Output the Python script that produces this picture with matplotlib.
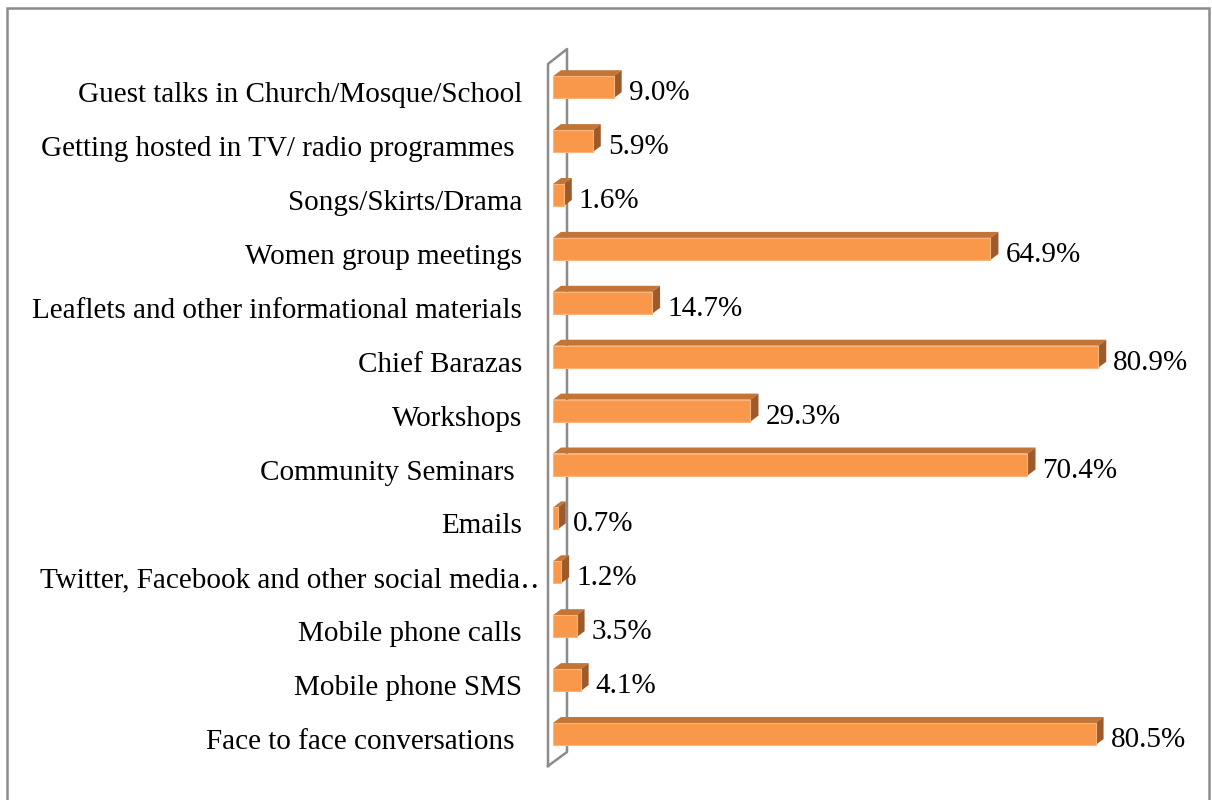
import matplotlib
matplotlib.use("Agg")
import matplotlib.pyplot as plt
from matplotlib.patches import Polygon, Rectangle
from matplotlib.lines import Line2D

categories = [
    "Face to face conversations ",
    "Mobile phone SMS",
    "Mobile phone calls",
    "Twitter, Facebook and other social media\u2025",
    "Emails",
    "Community Seminars ",
    "Workshops",
    "Chief Barazas",
    "Leaflets and other informational materials",
    "Women group meetings",
    "Songs/Skirts/Drama",
    "Getting hosted in TV/ radio programmes ",
    "Guest talks in Church/Mosque/School",
]
values = [80.5, 4.1, 3.5, 1.2, 0.7, 70.4, 29.3, 80.9, 14.7, 64.9, 1.6, 5.9, 9.0]

W, H = 1212, 800
fig = plt.figure(figsize=(W / 100, H / 100), dpi=100)
plt.rcParams['font.family'] = ['Liberation Serif', 'DejaVu Serif']

# geometry in pixels
px_per_pct = 6.74
px_per_row = 53.9
x0_px = 553
row0_px = 734  # y pixel (from top) of row 0
ax_left_px, ax_right_px = 530, 1200
ax_top_px, ax_bot_px = 40, 780

ax = fig.add_axes([ax_left_px / W, 1 - ax_bot_px / H,
                   (ax_right_px - ax_left_px) / W, (ax_bot_px - ax_top_px) / H])
ax.set_xlim((ax_left_px - x0_px) / px_per_pct, (ax_right_px - x0_px) / px_per_pct)
ax.set_ylim((row0_px - ax_bot_px) / px_per_row, (row0_px - ax_top_px) / px_per_row)
ax.axis('off')

# outer border
fig.patches.append(Rectangle((7 / W, -0.01), (1209 - 7) / W, (H - 8) / H + 0.01,
                             transform=fig.transFigure, fill=False,
                             edgecolor='#8c8c8c', linewidth=1.8))

# wall (axis plane)
def px2d(xp, yp):
    return ((xp - x0_px) / px_per_pct, (row0_px - yp) / px_per_row)

wall = [px2d(548, 766), px2d(548, 64), px2d(567, 49), px2d(567, 752), px2d(548, 766)]
ax.add_line(Line2D([p[0] for p in wall], [p[1] for p in wall],
                   color='#8c8c8c', linewidth=1.8, zorder=1, clip_on=False))

front_c = '#F9984A'
top_c = '#C27537'
side_c = '#9E5A2A'
edge_c = '#FBB57A'

bar_h = 22 / px_per_row
dx = 8 / px_per_pct
dy = 6 / px_per_row
txt_dy = -8 / px_per_row

for i, (cat, v) in enumerate(zip(categories, values)):
    y0 = i - bar_h / 2
    y1 = i + bar_h / 2
    # top face
    ax.add_patch(Polygon([(0, y1), (v, y1), (v + dx, y1 + dy), (dx, y1 + dy)],
                         closed=True, facecolor=top_c, edgecolor='none', zorder=3))
    # side face
    ax.add_patch(Polygon([(v, y0), (v + dx, y0 + dy), (v + dx, y1 + dy), (v, y1)],
                         closed=True, facecolor=side_c, edgecolor='none', zorder=3))
    # front face
    ax.barh(i, v, height=bar_h, left=0, color=front_c, edgecolor=edge_c,
            linewidth=0.8, zorder=4)
    ax.annotate(f"{v:.1f}%", xy=(v, i + txt_dy + 2 / px_per_row), xytext=(15 * 0.72, 0),
                textcoords='offset points', ha='left', va='center', fontsize=21,
                color='black')
    lx = -31 / px_per_pct
    if cat.endswith('\u2025'):
        lx = -13 / px_per_pct
    ax.text(lx, i + txt_dy, cat, ha='right', va='center', fontsize=21,
            color='black', clip_on=False)

fig.savefig('out.png', dpi=100)
